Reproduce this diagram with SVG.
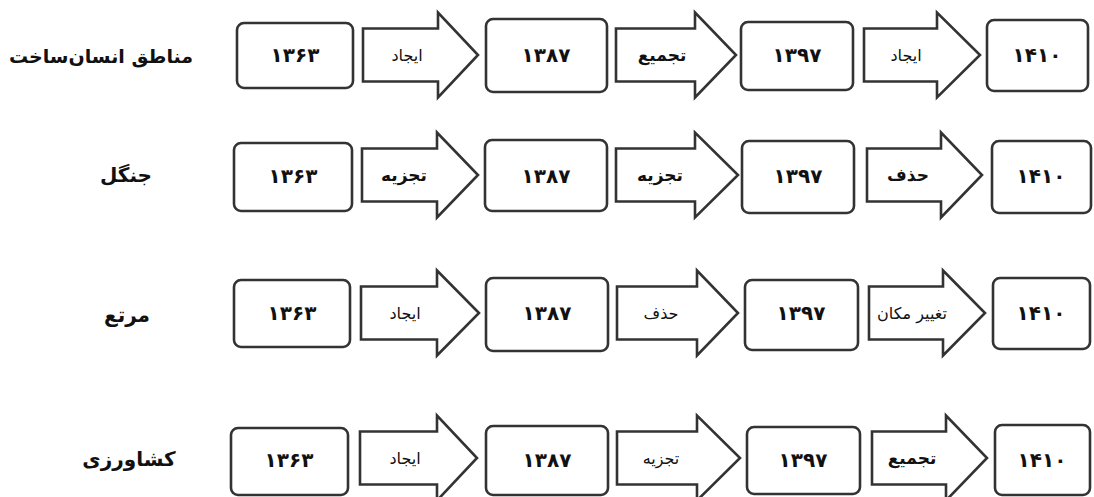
<svg xmlns="http://www.w3.org/2000/svg" width="1094" height="497" viewBox="0 0 1094 497">
<style>
.box{fill:#fff;stroke:#333;stroke-width:2.6}
.arr{fill:#fff;stroke:#333;stroke-width:2.6;stroke-linejoin:miter}
.num{font-family:"DejaVu Sans",sans-serif;font-weight:bold;font-size:20px;fill:#111;text-anchor:middle}
.lbl{font-family:"DejaVu Sans",sans-serif;font-size:16px;fill:#111;text-anchor:middle}
.lblb{font-family:"DejaVu Sans",sans-serif;font-weight:bold;font-size:17px;fill:#111;text-anchor:middle}
.row{font-family:"DejaVu Sans",sans-serif;font-weight:bold;font-size:20px;fill:#111;text-anchor:middle}
</style>
<rect width="1094" height="497" fill="#fff"/>
<g id="row-labels">
<text class="row" x="101" y="63" style="font-size:19px">مناطق انسان‌ساخت</text>
<text class="row" x="126" y="182">جنگل</text>
<text class="row" x="127" y="322">مرتع</text>
<text class="row" x="129" y="466">کشاورزی</text>
</g>
<g id="connectors">
<path class="arr" d="M363,28.5 L438,28.5 L438,12.5 L478,55 L438,97.5 L438,81.5 L363,81.5 Z"/>
<path class="arr" d="M616,28.5 L695,28.5 L695,12.5 L736,55 L695,97.5 L695,81.5 L616,81.5 Z"/>
<path class="arr" d="M864,28.5 L937,28.5 L937,12.5 L980,55 L937,97.5 L937,81.5 L864,81.5 Z"/>
<path class="arr" d="M362,148.5 L437,148.5 L437,132.5 L478,175 L437,217.5 L437,201.5 L362,201.5 Z"/>
<path class="arr" d="M616,148.5 L695,148.5 L695,132.5 L738,175 L695,217.5 L695,201.5 L616,201.5 Z"/>
<path class="arr" d="M867,148.5 L941,148.5 L941,132.5 L982,175 L941,217.5 L941,201.5 L867,201.5 Z"/>
<path class="arr" d="M361,286.5 L437,286.5 L437,270.5 L479,313 L437,355.5 L437,339.5 L361,339.5 Z"/>
<path class="arr" d="M617,286.5 L697,286.5 L697,270.5 L738,313 L697,355.5 L697,339.5 L617,339.5 Z"/>
<path class="arr" d="M869,286.5 L943,286.5 L943,270.5 L985,313 L943,355.5 L943,339.5 L869,339.5 Z"/>
<path class="arr" d="M360,431.5 L437,431.5 L437,415.5 L477,458 L437,500.5 L437,484.5 L360,484.5 Z"/>
<path class="arr" d="M617,431.5 L697,431.5 L697,415.5 L740,458 L697,500.5 L697,484.5 L617,484.5 Z"/>
<path class="arr" d="M872,431.5 L946,431.5 L946,415.5 L987,458 L946,500.5 L946,484.5 L872,484.5 Z"/>
<text class="lbl" x="407" y="61">ایجاد</text>
<text class="lblb" x="662" y="61">تجمیع</text>
<text class="lbl" x="906" y="61">ایجاد</text>
<text class="lblb" x="404" y="181">تجزیه</text>
<text class="lblb" x="660" y="181">تجزیه</text>
<text class="lblb" x="908" y="181">حذف</text>
<text class="lbl" x="405" y="319">ایجاد</text>
<text class="lbl" x="661" y="319">حذف</text>
<text class="lbl" x="912" y="319">تغییر مکان</text>
<text class="lbl" x="405" y="464">ایجاد</text>
<text class="lbl" x="661" y="464">تجزیه</text>
<text class="lblb" x="912" y="464">تجمیع</text>
</g>
<g id="r1-1363"><rect class="box" x="237" y="23" width="116" height="65" rx="7"/><text class="num" x="295" y="62">۱۳۶۳</text></g>
<g id="r1-1387"><rect class="box" x="486" y="19" width="121" height="73" rx="7"/><text class="num" x="546" y="62">۱۳۸۷</text></g>
<g id="r1-1397"><rect class="box" x="741" y="22" width="112" height="68" rx="7"/><text class="num" x="797" y="62">۱۳۹۷</text></g>
<g id="r1-1410"><rect class="box" x="987" y="20" width="101" height="71" rx="7"/><text class="num" x="1037" y="62">۱۴۱۰</text></g>
<g id="r2-1363"><rect class="box" x="234" y="143" width="118" height="68" rx="7"/><text class="num" x="293" y="183">۱۳۶۳</text></g>
<g id="r2-1387"><rect class="box" x="485" y="140" width="122" height="71" rx="7"/><text class="num" x="546" y="183">۱۳۸۷</text></g>
<g id="r2-1397"><rect class="box" x="742" y="141" width="112" height="72" rx="7"/><text class="num" x="798" y="183">۱۳۹۷</text></g>
<g id="r2-1410"><rect class="box" x="992" y="141" width="99" height="72" rx="7"/><text class="num" x="1041" y="183">۱۴۱۰</text></g>
<g id="r3-1363"><rect class="box" x="234" y="280" width="116" height="67" rx="7"/><text class="num" x="292" y="320">۱۳۶۳</text></g>
<g id="r3-1387"><rect class="box" x="486" y="278" width="122" height="73" rx="7"/><text class="num" x="547" y="320">۱۳۸۷</text></g>
<g id="r3-1397"><rect class="box" x="745" y="280" width="113" height="70" rx="7"/><text class="num" x="801" y="320">۱۳۹۷</text></g>
<g id="r3-1410"><rect class="box" x="993" y="278" width="97" height="71" rx="7"/><text class="num" x="1041" y="320">۱۴۱۰</text></g>
<g id="r4-1363"><rect class="box" x="231" y="428" width="117" height="67" rx="7"/><text class="num" x="289" y="467">۱۳۶۳</text></g>
<g id="r4-1387"><rect class="box" x="486" y="426" width="122" height="69" rx="7"/><text class="num" x="547" y="467">۱۳۸۷</text></g>
<g id="r4-1397"><rect class="box" x="747" y="427" width="113" height="67" rx="7"/><text class="num" x="803" y="467">۱۳۹۷</text></g>
<g id="r4-1410"><rect class="box" x="995" y="425" width="95" height="70" rx="7"/><text class="num" x="1042" y="467">۱۴۱۰</text></g>
</svg>
